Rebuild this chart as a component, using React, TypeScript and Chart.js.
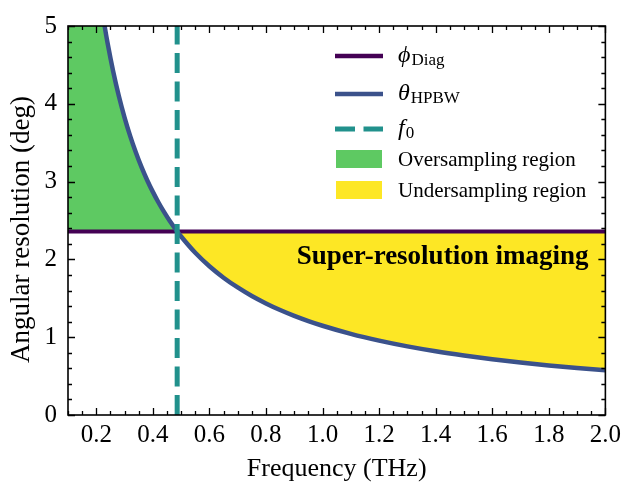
import React, { useEffect, useRef } from "react";
import { Chart, registerables } from "chart.js";

Chart.register(...registerables);

// ---- data ----
const FREQ = [0.1, 0.15, 0.2, 0.21, 0.22, 0.23, 0.24, 0.26, 0.28, 0.3, 0.32, 0.34, 0.36, 0.38, 0.4, 0.42, 0.44, 0.46, 0.486, 0.5, 0.55, 0.6, 0.65, 0.7, 0.75, 0.8, 0.85, 0.9, 0.95, 1.0, 1.1, 1.2, 1.3, 1.4, 1.5, 1.6, 1.7, 1.8, 1.9, 2.0];
const THETA_HPBW = [11.47, 7.647, 5.735, 5.462, 5.214, 4.987, 4.779, 4.412, 4.096, 3.823, 3.584, 3.374, 3.186, 3.018, 2.868, 2.731, 2.607, 2.493, 2.36, 2.294, 2.085, 1.912, 1.765, 1.639, 1.529, 1.434, 1.349, 1.274, 1.207, 1.147, 1.043, 0.956, 0.882, 0.819, 0.765, 0.717, 0.675, 0.637, 0.604, 0.574];
const PHI_DIAG = 2.36;
const F0 = 0.486;
const X_MIN = 0.1;
const X_MAX = 2.0;
const Y_MIN = 0;
const Y_MAX = 5;
const X_MAJOR = [0.2, 0.4, 0.6, 0.8, 1.0, 1.2, 1.4, 1.6, 1.8, 2.0];
const Y_MAJOR = [0, 1, 2, 3, 4, 5];
const X_MINOR_STEP = 0.05;
const Y_MINOR_STEP = 0.2;

const PURPLE = "#440154";
const BLUE = "#3b528b";
const TEAL = "#21918c";
const GREEN = "#5ec962";
const YELLOW = "#fde725";
const SERIF = "'Liberation Serif', 'Times New Roman', serif";

const LEGEND_ITEMS = [
  { kind: "line", color: PURPLE, sym: "\u03D5", sub: "Diag" },
  { kind: "line", color: BLUE, sym: "\u03B8", sub: "HPBW" },
  { kind: "dash", color: TEAL, sym: "f", sub: "0" },
  { kind: "box", color: GREEN, text: "Oversampling region" },
  { kind: "box", color: YELLOW, text: "Undersampling region" },
];

const framePlugin = {
  id: "frameTicks",
  afterDraw(chart: any) {
    const { ctx, chartArea, scales } = chart;
    const { left, right, top, bottom } = chartArea;
    const xs = scales.x;
    const ys = scales.y;
    ctx.save();
    ctx.strokeStyle = "#000";
    ctx.lineWidth = 1.3;
    const tickX = (v: number, len: number) => {
      const p = Math.round(xs.getPixelForValue(v)) + 0.5;
      ctx.beginPath();
      ctx.moveTo(p, bottom);
      ctx.lineTo(p, bottom - len);
      ctx.moveTo(p, top);
      ctx.lineTo(p, top + len);
      ctx.stroke();
    };
    const tickY = (v: number, len: number) => {
      const p = Math.round(ys.getPixelForValue(v)) + 0.5;
      ctx.beginPath();
      ctx.moveTo(left, p);
      ctx.lineTo(left + len, p);
      ctx.moveTo(right, p);
      ctx.lineTo(right - len, p);
      ctx.stroke();
    };
    const isMajor = (v: number, arr: number[]) => arr.some((m) => Math.abs(m - v) < 1e-6);
    for (let v = X_MIN; v <= X_MAX + 1e-9; v += X_MINOR_STEP) {
      if (!isMajor(v, X_MAJOR)) tickX(v, 4);
    }
    for (let v = Y_MIN; v <= Y_MAX + 1e-9; v += Y_MINOR_STEP) {
      if (!isMajor(v, Y_MAJOR)) tickY(v, 4);
    }
    X_MAJOR.forEach((v) => tickX(v, 7));
    Y_MAJOR.forEach((v) => tickY(v, 7));
    ctx.lineWidth = 1.6;
    ctx.strokeRect(left, top, right - left, bottom - top);

    // y-axis title
    ctx.fillStyle = "#000";
    ctx.font = `27px ${SERIF}`;
    ctx.textAlign = "center";
    ctx.textBaseline = "middle";
    ctx.translate(22, (top + bottom) / 2 + 9);
    ctx.rotate(-Math.PI / 2);
    ctx.fillText("Angular resolution (deg)", 0, 0);
    ctx.restore();
  },
};

const annotationPlugin = {
  id: "annot",
  afterDatasetsDraw(chart: any) {
    const { ctx, scales } = chart;
    ctx.save();
    ctx.fillStyle = "#000";
    ctx.font = `bold 27px ${SERIF}`;
    ctx.textAlign = "right";
    ctx.textBaseline = "alphabetic";
    ctx.fillText("Super-resolution imaging", scales.x.getPixelForValue(1.94), scales.y.getPixelForValue(1.945));
    ctx.restore();
  },
};

const legendPlugin = {
  id: "customLegend",
  afterDraw(chart: any) {
    const { ctx, chartArea } = chart;
    const x0 = chartArea.left + 267;
    const x1 = chartArea.left + 315;
    const tx = chartArea.left + 330;
    const rows = [30, 68, 103, 133, 164];
    ctx.save();
    LEGEND_ITEMS.forEach((it: any, i) => {
      const cy = chartArea.top + rows[i];
      if (it.kind === "box") {
        ctx.fillStyle = it.color;
        ctx.fillRect(x0 + 1, cy - 9, x1 - x0 - 2, 18);
      } else {
        ctx.strokeStyle = it.color;
        ctx.lineWidth = it.kind === "dash" ? 5 : 4.5;
        ctx.setLineDash(it.kind === "dash" ? [20, 8.5] : []);
        ctx.beginPath();
        ctx.moveTo(x0, cy);
        ctx.lineTo(x1, cy);
        ctx.stroke();
        ctx.setLineDash([]);
      }
      ctx.fillStyle = "#000";
      ctx.textAlign = "left";
      ctx.textBaseline = "alphabetic";
      if (it.text) {
        ctx.font = `21px ${SERIF}`;
        ctx.fillText(it.text, tx, cy + 7);
      } else {
        ctx.font = `italic 24px ${SERIF}`;
        const base = cy + 6;
        ctx.fillText(it.sym, tx, base);
        const w = ctx.measureText(it.sym).width;
        ctx.font = `17px ${SERIF}`;
        ctx.fillText(it.sub, tx + w + 1, base + 3);
      }
    });
    ctx.restore();
  },
};

export default function App() {
  const ref = useRef<HTMLCanvasElement | null>(null);
  useEffect(() => {
    if (!ref.current) return;
    const curve = FREQ.map((f, i) => ({ x: f, y: THETA_HPBW[i] }));
    const chart = new Chart(ref.current, {
      type: "line",
      data: {
        datasets: [
          {
            label: "phi_Diag",
            data: [
              { x: X_MIN, y: PHI_DIAG },
              { x: X_MAX, y: PHI_DIAG },
            ],
            borderColor: PURPLE,
            borderWidth: 4,
            pointRadius: 0,
            fill: false,
            order: 2,
          },
          {
            label: "theta_HPBW",
            data: curve,
            borderColor: BLUE,
            borderWidth: 4.5,
            pointRadius: 0,
            cubicInterpolationMode: "monotone",
            fill: { target: 0, above: GREEN, below: YELLOW },
            order: 1,
          },
          {
            label: "f0",
            data: [
              { x: F0, y: Y_MIN },
              { x: F0, y: Y_MAX },
            ],
            borderColor: TEAL,
            borderWidth: 5,
            borderDash: [20, 8.5],
            pointRadius: 0,
            fill: false,
            order: 0,
          },
        ] as any,
      },
      options: {
        animation: false,
        responsive: false,
        devicePixelRatio: 1,
        layout: { padding: { top: 23, right: 18, left: 0, bottom: 0 } },
        plugins: {
          legend: { display: false },
          tooltip: { enabled: false },
          filler: { drawTime: "beforeDatasetsDraw" },
        } as any,
        scales: {
          x: {
            type: "linear",
            min: X_MIN,
            max: X_MAX,
            afterBuildTicks: (s: any) => {
              s.ticks = X_MAJOR.map((v) => ({ value: v }));
            },
            afterFit: (s: any) => {
              s.height = 67;
            },
            ticks: {
              font: { family: SERIF, size: 25 },
              color: "#000",
              padding: 5,
              maxRotation: 0,
              autoSkip: false,
              callback: (v: any) => Number(v).toFixed(1),
            },
            grid: { display: false, drawTicks: false },
            border: { display: false },
            title: {
              display: true,
              text: "Frequency (THz)",
              color: "#000",
              font: { family: SERIF, size: 26, lineHeight: 1 },
              padding: { top: 0, bottom: 0 },
            },
          },
          y: {
            type: "linear",
            min: Y_MIN,
            max: Y_MAX,
            afterBuildTicks: (s: any) => {
              s.ticks = Y_MAJOR.map((v) => ({ value: v }));
            },
            afterFit: (s: any) => {
              s.width = 68;
            },
            ticks: {
              font: { family: SERIF, size: 25 },
              color: "#000",
              padding: 11,
              autoSkip: false,
              callback: (v: any) => String(v),
            },
            grid: { display: false, drawTicks: false },
            border: { display: false },
            title: { display: false },
          },
        },
      } as any,
      plugins: [annotationPlugin, framePlugin, legendPlugin],
    });
    return () => chart.destroy();
  }, []);
  return (
    <div style={{ position: "absolute", left: 0, top: 0, width: 626, height: 482, background: "#fff" }}>
      <canvas ref={ref} width={626} height={482} style={{ display: "block" }} />
    </div>
  );
}
